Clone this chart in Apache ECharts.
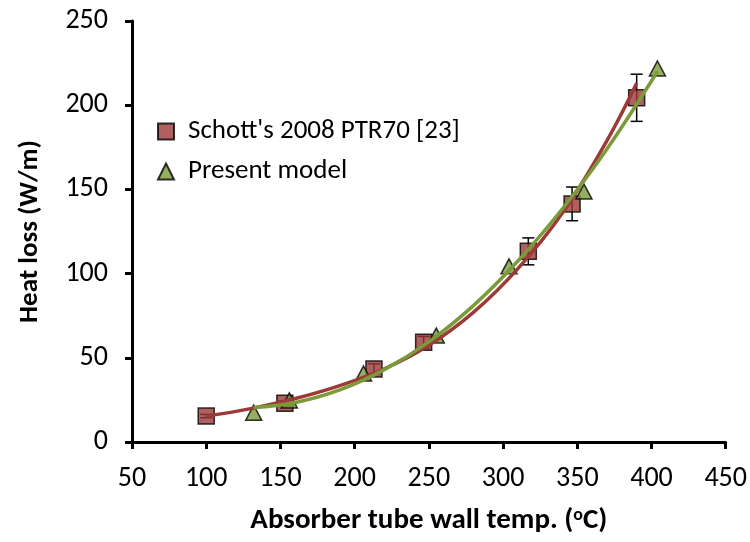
<!DOCTYPE html>
<html>
<head>
<meta charset="utf-8">
<script src="https://cdn.jsdelivr.net/npm/echarts@6/dist/echarts.min.js"></script>
<style>html,body{margin:0;padding:0;background:#fff}#c{width:750px;height:542px}</style>
</head>
<body>
<div id="c"></div>
<script>
// ---- Data ----
const schottX = [100, 153, 213, 246.5, 317, 346.5, 390];
const schottY = [15.4, 23, 43.4, 59.2, 113.2, 141.4, 204.4];
const schottErr = [1, 1.5, 3, 3.5, 8, 10, 14];

const modelX = [132, 156, 206, 255, 304, 354.5, 404];
const modelY = [17.4, 24.7, 40.7, 63.2, 104.3, 148.7, 221.8];

// trend curves
const schottTrendX = [100, 130, 160, 190, 220, 250, 280, 310, 340, 370, 390];
const schottTrendY = [15.3, 19.8, 25.8, 33.5, 43.5, 57.5, 77, 103, 136, 179, 213];
const modelTrendX = [132, 160, 190, 220, 250, 280, 310, 340, 370, 404];
const modelTrendY = [20.5, 23.5, 31, 43, 59.5, 81, 107.5, 138.5, 174, 220];

const xTicks = [50, 100, 150, 200, 250, 300, 350, 400, 450];
const yTicks = [0, 50, 100, 150, 200, 250];

const seriesNames = ["Schott's 2008 PTR70 [23]", "Present model"];
const xTitle = "Absorber tube wall temp. (";
const yTitle = "Heat loss (W/m)";

const FONT = "Carlito, 'Open Sans', sans-serif";
const RED = '#9B3A37';
const GREEN = '#7B9B3A';

const zip = (a, b) => a.map((v, i) => [v, b[i]]);

const chart = echarts.init(document.getElementById('c'), null, {renderer: 'canvas'});
chart.setOption({
  animation: false,
  backgroundColor: '#fff',
  textStyle: {fontFamily: FONT},
  grid: {left: 132, right: 24, top: 21, bottom: 100, containLabel: false},
  legend: {
    orient: 'vertical', left: 152, top: 113, itemGap: 13,
    itemWidth: 16, itemHeight: 16,
    data: [
      {name: seriesNames[0], icon: 'rect'},
      {name: seriesNames[1], icon: 'triangle'}
    ],
    textStyle: {fontFamily: FONT, fontSize: 27, color: '#000', padding: [0, 0, 0, 9]}
  },
  xAxis: {
    type: 'value', min: xTicks[0], max: xTicks[xTicks.length - 1], interval: 50,
    splitLine: {show: false},
    axisLine: {lineStyle: {color: '#000', width: 3}},
    axisTick: {length: 7, lineStyle: {color: '#000', width: 3}},
    axisLabel: {color: '#000', fontSize: 28, fontFamily: FONT, margin: 23},
    name: '{t|' + xTitle + '}{s|o}{t|C)}',
    nameLocation: 'middle', nameGap: 64,
    nameTextStyle: {
      rich: {
        t: {fontSize: 29, fontWeight: 'bold', color: '#000', fontFamily: FONT},
        s: {fontSize: 18, fontWeight: 'bold', color: '#000', fontFamily: FONT, verticalAlign: 'top', padding: [0, 0, 12, 0]}
      }
    }
  },
  yAxis: {
    type: 'value', min: yTicks[0], max: yTicks[yTicks.length - 1], interval: 50,
    splitLine: {show: false},
    axisLine: {show: true, lineStyle: {color: '#000', width: 3}},
    axisTick: {show: true, length: 7, lineStyle: {color: '#000', width: 3}},
    axisLabel: {color: '#000', fontSize: 28, fontFamily: FONT, margin: 24},
    name: yTitle, nameLocation: 'middle', nameGap: 88, nameRotate: 90,
    nameTextStyle: {fontSize: 27, fontWeight: 'bold', color: '#000', fontFamily: FONT}
  },
  series: [
    {
      type: 'custom', name: 'err', silent: true, z: 1,
      data: schottX.map((x, i) => [x, schottY[i] - schottErr[i], schottY[i] + schottErr[i]]),
      renderItem: function (params, api) {
        const lo = api.coord([api.value(0), api.value(1)]);
        const hi = api.coord([api.value(0), api.value(2)]);
        const w = 6;
        const st = {stroke: '#000', lineWidth: 1.5};
        return {type: 'group', children: [
          {type: 'line', shape: {x1: lo[0], y1: lo[1], x2: hi[0], y2: hi[1]}, style: st},
          {type: 'line', shape: {x1: lo[0] - w, y1: lo[1], x2: lo[0] + w, y2: lo[1]}, style: st},
          {type: 'line', shape: {x1: hi[0] - w, y1: hi[1], x2: hi[0] + w, y2: hi[1]}, style: st}
        ]};
      }
    },
    {
      type: 'scatter', name: seriesNames[0], z: 2,
      symbol: 'rect', symbolSize: 16,
      itemStyle: {color: RED, borderColor: '#000', borderWidth: 1.5},
      data: zip(schottX, schottY)
    },
    {
      type: 'scatter', name: seriesNames[1], z: 2,
      symbol: 'triangle', symbolSize: [16, 15],
      itemStyle: {color: GREEN, borderColor: '#000', borderWidth: 1.5},
      data: zip(modelX, modelY)
    },
    {
      type: 'line', name: 'trendSchott', z: 3, smooth: 0.4, showSymbol: false, silent: true,
      lineStyle: {color: RED, width: 3.5},
      data: zip(schottTrendX, schottTrendY)
    },
    {
      type: 'line', name: 'trendModel', z: 4, smooth: 0.4, showSymbol: false, silent: true,
      lineStyle: {color: GREEN, width: 3.5},
      data: zip(modelTrendX, modelTrendY)
    }
  ]
});
</script>
</body>
</html>
